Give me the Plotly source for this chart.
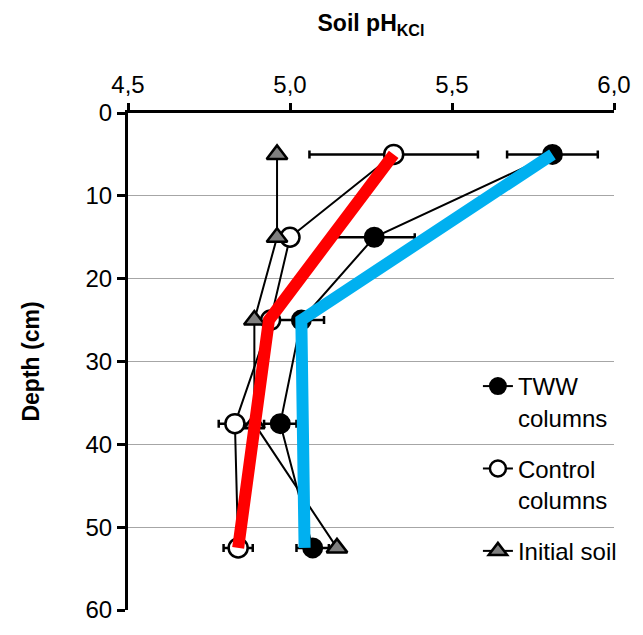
import plotly.graph_objects as go

# Sampling depths (cm) and soil pH (KCl) per treatment
depths = [5, 15, 25, 37.5, 52.5]
tww_ph = [5.81, 5.26, 5.035, 4.97, 5.07]
tww_err = [0.14, 0.125, 0.07, 0.05, 0.05]
control_ph = [5.32, 5.00, 4.94, 4.83, 4.84]
control_err = [0.26, 0.02, 0.02, 0.05, 0.045]
initial_ph = [4.96, 4.96, 4.89, 4.89, 5.145]

# Trend profiles through the 5, 25 and 52.5 cm layers
trend_depths = [5, 25, 52.5]
tww_trend = [5.81, 5.035, 5.045]
control_trend = [5.32, 4.935, 4.84]

x_ticks = [4.5, 5.0, 5.5, 6.0]
y_ticks = [0, 10, 20, 30, 40, 50, 60]

FONT = "Liberation Sans, Arial, sans-serif"

fig = go.Figure()

err_style = dict(type="data", visible=True, color="black", thickness=2.5, width=4)

fig.add_trace(go.Scatter(
    x=tww_ph, y=depths, mode="lines+markers", name="TWW<br>columns",
    legendgroup="tww",
    line=dict(color="black", width=2),
    marker=dict(symbol="circle", size=19, color="black", line=dict(color="black", width=2)),
    error_x=dict(array=tww_err, **err_style),
))
fig.add_trace(go.Scatter(
    x=control_ph, y=depths, mode="lines+markers", name="Control<br>columns",
    legendgroup="control",
    line=dict(color="black", width=2),
    marker=dict(symbol="circle", size=19, color="white", line=dict(color="black", width=2.5)),
    error_x=dict(array=control_err, **err_style),
))
fig.add_trace(go.Scatter(
    x=initial_ph, y=depths, mode="lines+markers", name="Initial soil",
    legendgroup="initial",
    line=dict(color="black", width=2),
    marker=dict(symbol="triangle-up", size=18, color="#7f7f7f", line=dict(color="black", width=2.5)),
))
fig.add_trace(go.Scatter(
    x=control_trend, y=trend_depths, mode="lines", showlegend=False,
    line=dict(color="#ff0000", width=12),
))
fig.add_trace(go.Scatter(
    x=tww_trend, y=trend_depths, mode="lines", showlegend=False,
    line=dict(color="#00b0f0", width=12),
))

fig.update_layout(
    width=643, height=635,
    margin=dict(l=128, r=21, t=113, b=21),
    paper_bgcolor="white", plot_bgcolor="white",
    separators=", ",
    font=dict(family=FONT, size=24, color="black"),
    legend=dict(
        x=0.72, y=0.495, xanchor="left", yanchor="top",
        bgcolor="rgba(0,0,0,0)", valign="top",
        tracegroupgap=17,
        font=dict(family=FONT, size=24, color="black"),
    ),
    xaxis=dict(
        side="top", range=[4.5, 6.0], tickvals=x_ticks, tickformat=".1f",
        showgrid=False, zeroline=False,
        showline=True, linecolor="black", linewidth=3,
        ticks="outside", ticklen=7, tickwidth=3, tickcolor="black",
        tickfont=dict(size=24),
        title=dict(text="<b>Soil pH<sub>KCl</sub></b>", font=dict(size=23), standoff=34),
    ),
    yaxis=dict(
        range=[60, 0], tickvals=y_ticks,
        showgrid=True, gridcolor="#a6a6a6", gridwidth=1.2, zeroline=False,
        showline=True, linecolor="black", linewidth=3,
        ticks="outside", ticklen=8, tickwidth=3, tickcolor="black",
        tickfont=dict(size=24),
        title=dict(text="<b>Depth (cm)</b>", font=dict(size=23), standoff=40),
    ),
)

fig.write_html("out.html")
